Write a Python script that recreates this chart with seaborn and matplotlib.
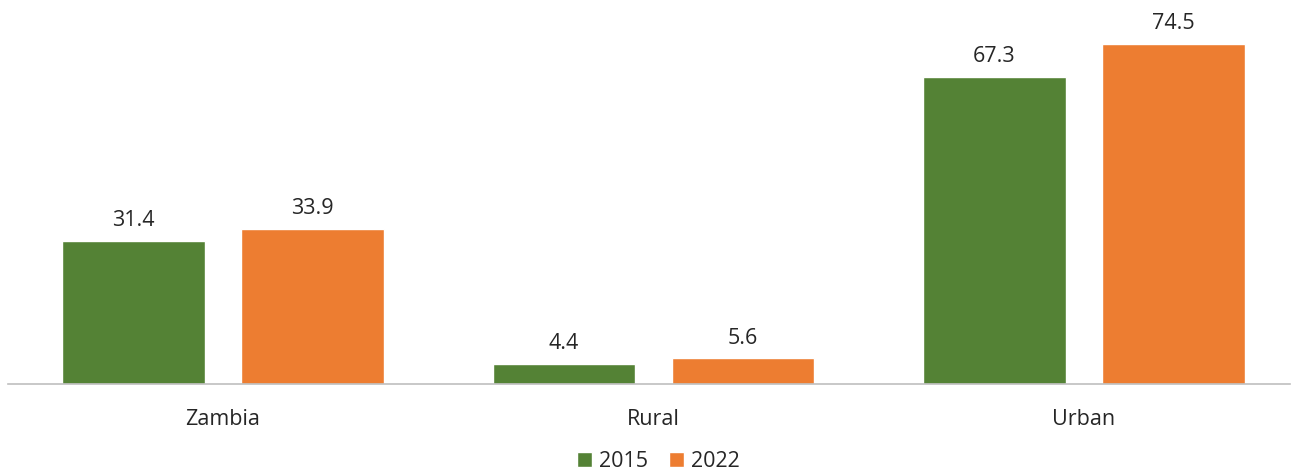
import matplotlib
matplotlib.use("Agg")
import matplotlib.pyplot as plt
import seaborn as sns
import pandas as pd

categories = ["Zambia", "Rural", "Urban"]
years = ["2015", "2022"]
values_2015 = [31.4, 4.4, 67.3]
values_2022 = [33.9, 5.6, 74.5]
colors = ["#548235", "#ED7D31"]

df = pd.DataFrame({
    "Area": categories * 2,
    "Year": [years[0]] * 3 + [years[1]] * 3,
    "Value": values_2015 + values_2022,
})

sns.set_style("white")
plt.rcParams["font.family"] = ["Open Sans", "DejaVu Sans"]

FS = 15.5
TXT = "#262626"

fig = plt.figure(figsize=(12.96, 4.73), dpi=100)
ax = fig.add_axes([8 / 1296, (473 - 384) / 473, 1282 / 1296, 384 / 473])

sns.barplot(data=df, x="Area", y="Value", hue="Year", palette=colors,
            width=0.8316, gap=0.2015, ax=ax, legend=True, saturation=1)

for cont in ax.containers:
    ax.bar_label(cont, fmt="%.1f", padding=7, fontsize=FS, color=TXT)

ax.set_ylim(0, 84.1)
ax.set_xlim(-0.4994, 2.4785)
ax.set_xlabel("")
ax.set_ylabel("")
ax.set_yticks([])
for s in ["top", "right", "left"]:
    ax.spines[s].set_visible(False)
ax.spines["bottom"].set_color("#BFBFBF")
ax.spines["bottom"].set_linewidth(1.2)
ax.tick_params(axis="x", length=0, labelsize=FS, labelcolor=TXT, pad=18)

ax.legend(loc="center", bbox_to_anchor=(0.5074, -0.203), ncol=2, frameon=False,
          fontsize=FS, handlelength=0.7, handleheight=0.7, handletextpad=0.3,
          columnspacing=1.0, labelcolor=TXT, borderpad=0)

fig.savefig("out.png", dpi=100)
